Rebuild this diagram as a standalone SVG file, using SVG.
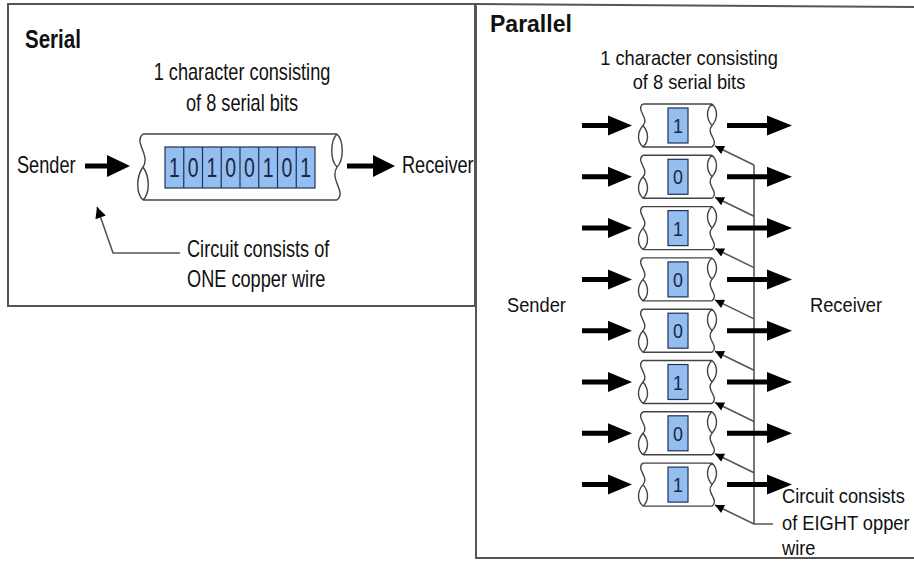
<svg xmlns="http://www.w3.org/2000/svg" xmlns:xlink="http://www.w3.org/1999/xlink" width="914" height="561" viewBox="0 0 914 561">
<style>
text{font-family:"Liberation Sans",Arial,sans-serif;fill:#111}
.t23{font-size:23px}
.t21{font-size:21px}
.title{font-weight:bold}
.mid{text-anchor:middle}
.panel{fill:none;stroke:#555;stroke-width:2}
.cyl{fill:none;stroke:#444;stroke-width:1.4}
.cylbg{fill:#fff;stroke:none}
.bit{fill:#95bef0;stroke:#1f3158;stroke-width:1.2}
.dig{fill:#1a2745}
.big{fill:#000;stroke:none}
.thin{fill:none;stroke:#555;stroke-width:1.6}
</style>
<defs>
<marker id="ah" viewBox="0 0 10 10" refX="10" refY="5" markerWidth="15" markerHeight="11" markerUnits="userSpaceOnUse" orient="auto">
<path d="M0,0 L10,5 L0,10 Z" fill="#000"/>
</marker>
<marker id="ahs" viewBox="0 0 10 10" refX="10" refY="5" markerWidth="12" markerHeight="9" markerUnits="userSpaceOnUse" orient="auto">
<path d="M0,0 L10,5 L0,10 Z" fill="#000"/>
</marker>
</defs>
<rect width="914" height="561" fill="#fff"/>

<g id="serial-panel">
<rect class="panel" x="8" y="4" width="467" height="302"/>
<text class="t23 title" style="font-size:26px" transform="translate(25,48) scale(0.79,1)">Serial</text>
<text class="t23 mid" transform="translate(242,80) scale(0.79,1)">1 character consisting</text>
<text class="t23 mid" transform="translate(242,111) scale(0.79,1)">of 8 serial bits</text>
</g>

<g id="serial-sender"><text class="t23" transform="translate(17,173) scale(0.79,1)">Sender</text></g>
<g id="serial-receiver"><text class="t23" transform="translate(402,173) scale(0.79,1)">Receiver</text></g>
<g id="serial-note">
<text class="t23" transform="translate(187,257) scale(0.79,1)">Circuit consists of</text>
<text class="t23" transform="translate(187,287) scale(0.79,1)">ONE copper wire</text>
</g>

<g id="serial-wire">
<rect class="cylbg" x="143" y="134" width="194" height="66"/>
<path class="cyl" d="M143,134 H337 M143,200 H337
M143,134 C133,142 151,155 143,167 M143,167 C136,177 136,193 143,200 M143,167 C150,177 150,193 143,200
M337,134 C330,141 330,160 337,167 M337,134 C344,141 344,160 337,167 M337,167 C329,180 347,192 337,200"/>
<rect class="bit" x="165" y="147" width="150" height="41"/>
<path d="M183.75,147 V188 M202.5,147 V188 M221.25,147 V188 M240,147 V188 M258.75,147 V188 M277.5,147 V188 M296.25,147 V188" stroke="#1f3158" stroke-width="1.2"/>
<text class="dig mid" style="font-size:27px" transform="translate(174.4,177) scale(0.72,1)">1</text>
<text class="dig mid" style="font-size:27px" transform="translate(193.1,177) scale(0.72,1)">0</text>
<text class="dig mid" style="font-size:27px" transform="translate(211.9,177) scale(0.72,1)">1</text>
<text class="dig mid" style="font-size:27px" transform="translate(230.6,177) scale(0.72,1)">0</text>
<text class="dig mid" style="font-size:27px" transform="translate(249.4,177) scale(0.72,1)">0</text>
<text class="dig mid" style="font-size:27px" transform="translate(268.1,177) scale(0.72,1)">1</text>
<text class="dig mid" style="font-size:27px" transform="translate(286.9,177) scale(0.72,1)">0</text>
<text class="dig mid" style="font-size:27px" transform="translate(305.6,177) scale(0.72,1)">1</text>
</g>

<g id="parallel-panel">
<path class="panel" d="M475,4 L914,7 M476,4 V558 H914"/>
<text class="title" style="font-size:23px" transform="translate(490,32)">Parallel</text>
<text class="t21 mid" transform="translate(689,65) scale(0.87,1)">1 character consisting</text>
<text class="t21 mid" transform="translate(689,89) scale(0.87,1)">of 8 serial bits</text>
</g>
<g id="parallel-sender"><text class="t21" transform="translate(507,312) scale(0.87,1)">Sender</text></g>
<g id="parallel-receiver"><text class="t21" transform="translate(810,312) scale(0.87,1)">Receiver</text></g>

<g id="wire-0" transform="translate(0,125.5)">
<rect class="cylbg" x="643" y="-21.5" width="69" height="43"/>
<path class="cyl" d="M643,-21.5 H712 M643,21.5 H712 M643,-21.5 C635,-16 650,-7 643,0 M643,0 C637,7 637,16 643,21.5 M643,0 C649,7 649,16 643,21.5 M712,-21.5 C706,-16 706,-7 712,0 M712,-21.5 C718,-16 718,-7 712,0 M712,0 C705,8 720,15 712,21.5"/>
<rect class="bit" x="668" y="-17.5" width="20" height="35"/>
<text class="dig mid" style="font-size:21px" transform="translate(678,7.5) scale(0.85,1)">1</text>
</g>
<g id="wire-1" transform="translate(0,176.8)">
<rect class="cylbg" x="643" y="-21.5" width="69" height="43"/>
<path class="cyl" d="M643,-21.5 H712 M643,21.5 H712 M643,-21.5 C635,-16 650,-7 643,0 M643,0 C637,7 637,16 643,21.5 M643,0 C649,7 649,16 643,21.5 M712,-21.5 C706,-16 706,-7 712,0 M712,-21.5 C718,-16 718,-7 712,0 M712,0 C705,8 720,15 712,21.5"/>
<rect class="bit" x="668" y="-17.5" width="20" height="35"/>
<text class="dig mid" style="font-size:21px" transform="translate(678,7.5) scale(0.85,1)">0</text>
</g>
<g id="wire-2" transform="translate(0,228.1)">
<rect class="cylbg" x="643" y="-21.5" width="69" height="43"/>
<path class="cyl" d="M643,-21.5 H712 M643,21.5 H712 M643,-21.5 C635,-16 650,-7 643,0 M643,0 C637,7 637,16 643,21.5 M643,0 C649,7 649,16 643,21.5 M712,-21.5 C706,-16 706,-7 712,0 M712,-21.5 C718,-16 718,-7 712,0 M712,0 C705,8 720,15 712,21.5"/>
<rect class="bit" x="668" y="-17.5" width="20" height="35"/>
<text class="dig mid" style="font-size:21px" transform="translate(678,7.5) scale(0.85,1)">1</text>
</g>
<g id="wire-3" transform="translate(0,279.4)">
<rect class="cylbg" x="643" y="-21.5" width="69" height="43"/>
<path class="cyl" d="M643,-21.5 H712 M643,21.5 H712 M643,-21.5 C635,-16 650,-7 643,0 M643,0 C637,7 637,16 643,21.5 M643,0 C649,7 649,16 643,21.5 M712,-21.5 C706,-16 706,-7 712,0 M712,-21.5 C718,-16 718,-7 712,0 M712,0 C705,8 720,15 712,21.5"/>
<rect class="bit" x="668" y="-17.5" width="20" height="35"/>
<text class="dig mid" style="font-size:21px" transform="translate(678,7.5) scale(0.85,1)">0</text>
</g>
<g id="wire-4" transform="translate(0,330.7)">
<rect class="cylbg" x="643" y="-21.5" width="69" height="43"/>
<path class="cyl" d="M643,-21.5 H712 M643,21.5 H712 M643,-21.5 C635,-16 650,-7 643,0 M643,0 C637,7 637,16 643,21.5 M643,0 C649,7 649,16 643,21.5 M712,-21.5 C706,-16 706,-7 712,0 M712,-21.5 C718,-16 718,-7 712,0 M712,0 C705,8 720,15 712,21.5"/>
<rect class="bit" x="668" y="-17.5" width="20" height="35"/>
<text class="dig mid" style="font-size:21px" transform="translate(678,7.5) scale(0.85,1)">0</text>
</g>
<g id="wire-5" transform="translate(0,382)">
<rect class="cylbg" x="643" y="-21.5" width="69" height="43"/>
<path class="cyl" d="M643,-21.5 H712 M643,21.5 H712 M643,-21.5 C635,-16 650,-7 643,0 M643,0 C637,7 637,16 643,21.5 M643,0 C649,7 649,16 643,21.5 M712,-21.5 C706,-16 706,-7 712,0 M712,-21.5 C718,-16 718,-7 712,0 M712,0 C705,8 720,15 712,21.5"/>
<rect class="bit" x="668" y="-17.5" width="20" height="35"/>
<text class="dig mid" style="font-size:21px" transform="translate(678,7.5) scale(0.85,1)">1</text>
</g>
<g id="wire-6" transform="translate(0,433.3)">
<rect class="cylbg" x="643" y="-21.5" width="69" height="43"/>
<path class="cyl" d="M643,-21.5 H712 M643,21.5 H712 M643,-21.5 C635,-16 650,-7 643,0 M643,0 C637,7 637,16 643,21.5 M643,0 C649,7 649,16 643,21.5 M712,-21.5 C706,-16 706,-7 712,0 M712,-21.5 C718,-16 718,-7 712,0 M712,0 C705,8 720,15 712,21.5"/>
<rect class="bit" x="668" y="-17.5" width="20" height="35"/>
<text class="dig mid" style="font-size:21px" transform="translate(678,7.5) scale(0.85,1)">0</text>
</g>
<g id="wire-7" transform="translate(0,484.6)">
<rect class="cylbg" x="643" y="-21.5" width="69" height="43"/>
<path class="cyl" d="M643,-21.5 H712 M643,21.5 H712 M643,-21.5 C635,-16 650,-7 643,0 M643,0 C637,7 637,16 643,21.5 M643,0 C649,7 649,16 643,21.5 M712,-21.5 C706,-16 706,-7 712,0 M712,-21.5 C718,-16 718,-7 712,0 M712,0 C705,8 720,15 712,21.5"/>
<rect class="bit" x="668" y="-17.5" width="20" height="35"/>
<text class="dig mid" style="font-size:21px" transform="translate(678,7.5) scale(0.85,1)">1</text>
</g>

<g id="connectors">
<path class="big" d="M85,163.5 H107 V155 L130,166 L107,177 V168.5 H85 Z"/>
<path class="big" d="M347,163.5 H373 V155 L395,166 L373,177 V168.5 H347 Z"/>
<path class="thin" d="M180,253 H113 L97,207" marker-end="url(#ah)"/>
<path class="thin" d="M754,165 V524 H773"/>
<path class="thin" d="M754,165 L715,146" marker-end="url(#ahs)"/>
<path class="thin" d="M754,216.3 L715,197.3" marker-end="url(#ahs)"/>
<path class="thin" d="M754,267.6 L715,248.6" marker-end="url(#ahs)"/>
<path class="thin" d="M754,318.9 L715,299.9" marker-end="url(#ahs)"/>
<path class="thin" d="M754,370.2 L715,351.2" marker-end="url(#ahs)"/>
<path class="thin" d="M754,421.5 L715,402.5" marker-end="url(#ahs)"/>
<path class="thin" d="M754,472.8 L715,453.8" marker-end="url(#ahs)"/>
<path class="thin" d="M754,524 L715,505" marker-end="url(#ahs)"/>
<g transform="translate(0,125.5)"><path class="big" d="M582,-2.5 H608 V-10 L632,0 L608,10 V2.5 H582 Z M727,-2.5 H767 V-10 L792,0 L767,10 V2.5 H727 Z"/></g>
<g transform="translate(0,176.8)"><path class="big" d="M582,-2.5 H608 V-10 L632,0 L608,10 V2.5 H582 Z M727,-2.5 H767 V-10 L792,0 L767,10 V2.5 H727 Z"/></g>
<g transform="translate(0,228.1)"><path class="big" d="M582,-2.5 H608 V-10 L632,0 L608,10 V2.5 H582 Z M727,-2.5 H767 V-10 L792,0 L767,10 V2.5 H727 Z"/></g>
<g transform="translate(0,279.4)"><path class="big" d="M582,-2.5 H608 V-10 L632,0 L608,10 V2.5 H582 Z M727,-2.5 H767 V-10 L792,0 L767,10 V2.5 H727 Z"/></g>
<g transform="translate(0,330.7)"><path class="big" d="M582,-2.5 H608 V-10 L632,0 L608,10 V2.5 H582 Z M727,-2.5 H767 V-10 L792,0 L767,10 V2.5 H727 Z"/></g>
<g transform="translate(0,382)"><path class="big" d="M582,-2.5 H608 V-10 L632,0 L608,10 V2.5 H582 Z M727,-2.5 H767 V-10 L792,0 L767,10 V2.5 H727 Z"/></g>
<g transform="translate(0,433.3)"><path class="big" d="M582,-2.5 H608 V-10 L632,0 L608,10 V2.5 H582 Z M727,-2.5 H767 V-10 L792,0 L767,10 V2.5 H727 Z"/></g>
<g transform="translate(0,484.6)"><path class="big" d="M582,-2.5 H608 V-10 L632,0 L608,10 V2.5 H582 Z M727,-2.5 H767 V-10 L792,0 L767,10 V2.5 H727 Z"/></g>
</g>

<g id="parallel-note">
<text class="t21" transform="translate(782,503) scale(0.87,1)">Circuit consists</text>
<text class="t21" transform="translate(782,530) scale(0.87,1)">of EIGHT opper</text>
<text class="t21" transform="translate(782,555) scale(0.87,1)">wire</text>
</g>
</svg>
